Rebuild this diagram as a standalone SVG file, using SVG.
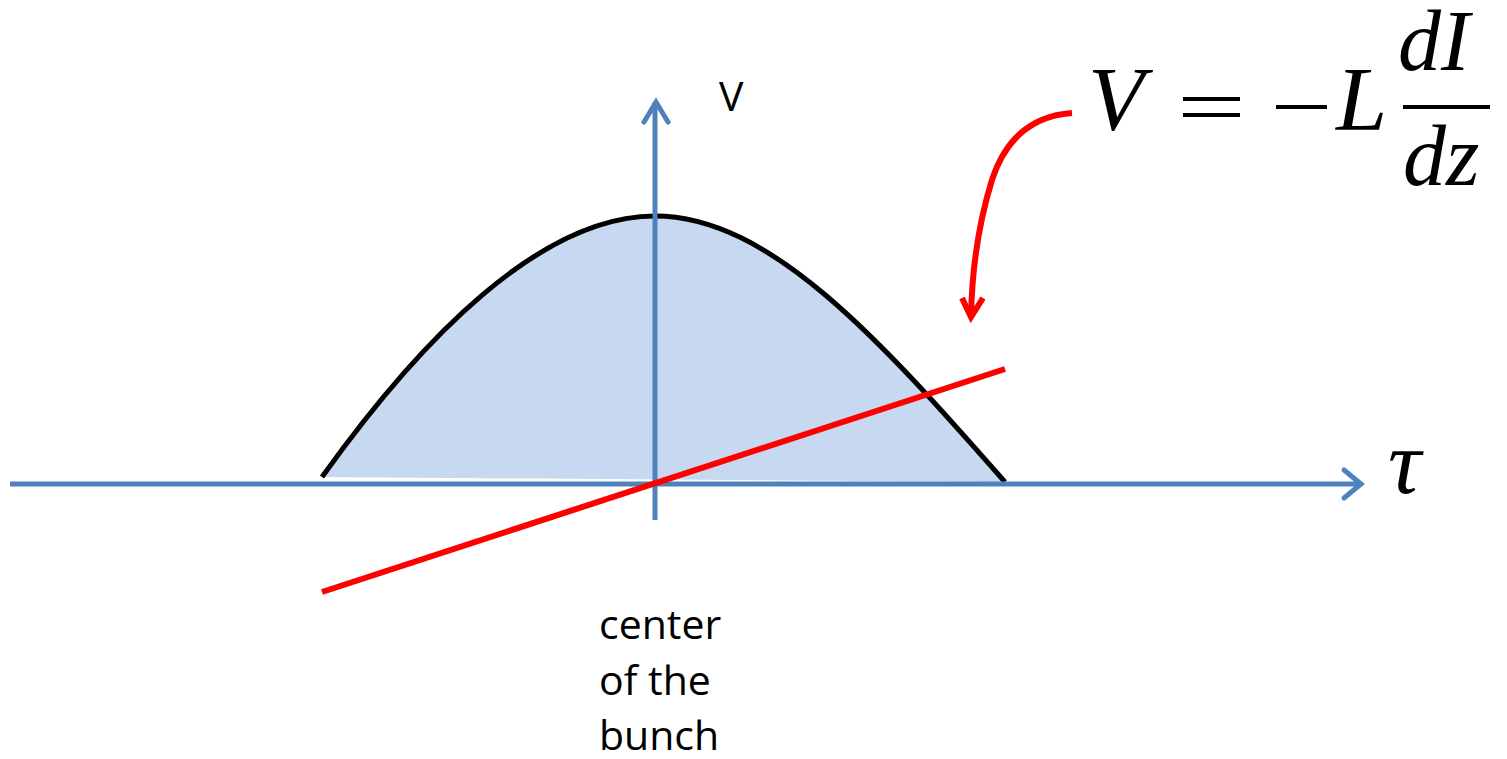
<svg xmlns="http://www.w3.org/2000/svg" width="1507" height="759" viewBox="0 0 1507 759">
<style>
.axis{stroke:#4F81BD;stroke-width:5;fill:none;stroke-linecap:butt}
.head{stroke:#4F81BD;stroke-width:5;fill:none;stroke-linecap:round;stroke-linejoin:miter}
.red{stroke:#FF0000;stroke-width:6;fill:none}
.lbl{font-family:"Open Sans","Liberation Sans",sans-serif;font-size:41px;fill:#000}
.math{font-family:"Liberation Serif","DejaVu Serif",serif;fill:#000}
</style>
<rect width="1507" height="759" fill="#fff"/>
<g id="bunch">
<path d="M322,477 C420,340 540,216 655,216 C770,216 880,340 1005,482 Z" fill="#C6D9F0" stroke="none"/>
<path d="M322,477 C420,340 540,216 655,216 C770,216 880,340 1005,482" fill="none" stroke="#000" stroke-width="5"/>
</g>
<g id="connectors">
<line class="axis" x1="10" y1="484" x2="1360" y2="484"/>
<polyline class="head" points="1344,470 1361,484 1344,498"/>
<line class="axis" x1="655" y1="520" x2="655" y2="102"/>
<polyline class="head" points="644,122 656,102 668,122"/>
<line class="red" x1="322" y1="592" x2="1005" y2="369"/>
<path class="red" d="M1072,113 C1030,116 1005,140 992,180 C978,225 972,270 971,316"/>
<polyline class="red" points="962,298 971,317 983,298" stroke-linejoin="miter"/>
</g>
<g id="label-v"><text class="lbl" x="719" y="111">V</text></g>
<g id="label-center">
<text class="lbl" x="599" y="639">center</text>
<text class="lbl" x="599" y="695">of the</text>
<text class="lbl" x="599" y="750">bunch</text>
</g>
<g id="label-tau"><text class="math" x="1388" y="493" font-size="92" font-style="italic">τ</text></g>
<g id="formula">
<text class="math" x="1088" y="130" font-size="92" font-style="italic">V</text>
<line x1="1183" y1="99" x2="1240" y2="99" stroke="#000" stroke-width="4"/>
<line x1="1183" y1="115" x2="1240" y2="115" stroke="#000" stroke-width="4"/>
<line x1="1276" y1="107" x2="1327" y2="107" stroke="#000" stroke-width="4"/>
<text class="math" x="1336" y="130" font-size="92" font-style="italic">L</text>
<line x1="1403" y1="107" x2="1490" y2="107" stroke="#000" stroke-width="4"/>
<text class="math" x="1398" y="70" font-size="86" font-style="italic">dI</text>
<text class="math" x="1403" y="185" font-size="86" font-style="italic">dz</text>
</g>
</svg>
